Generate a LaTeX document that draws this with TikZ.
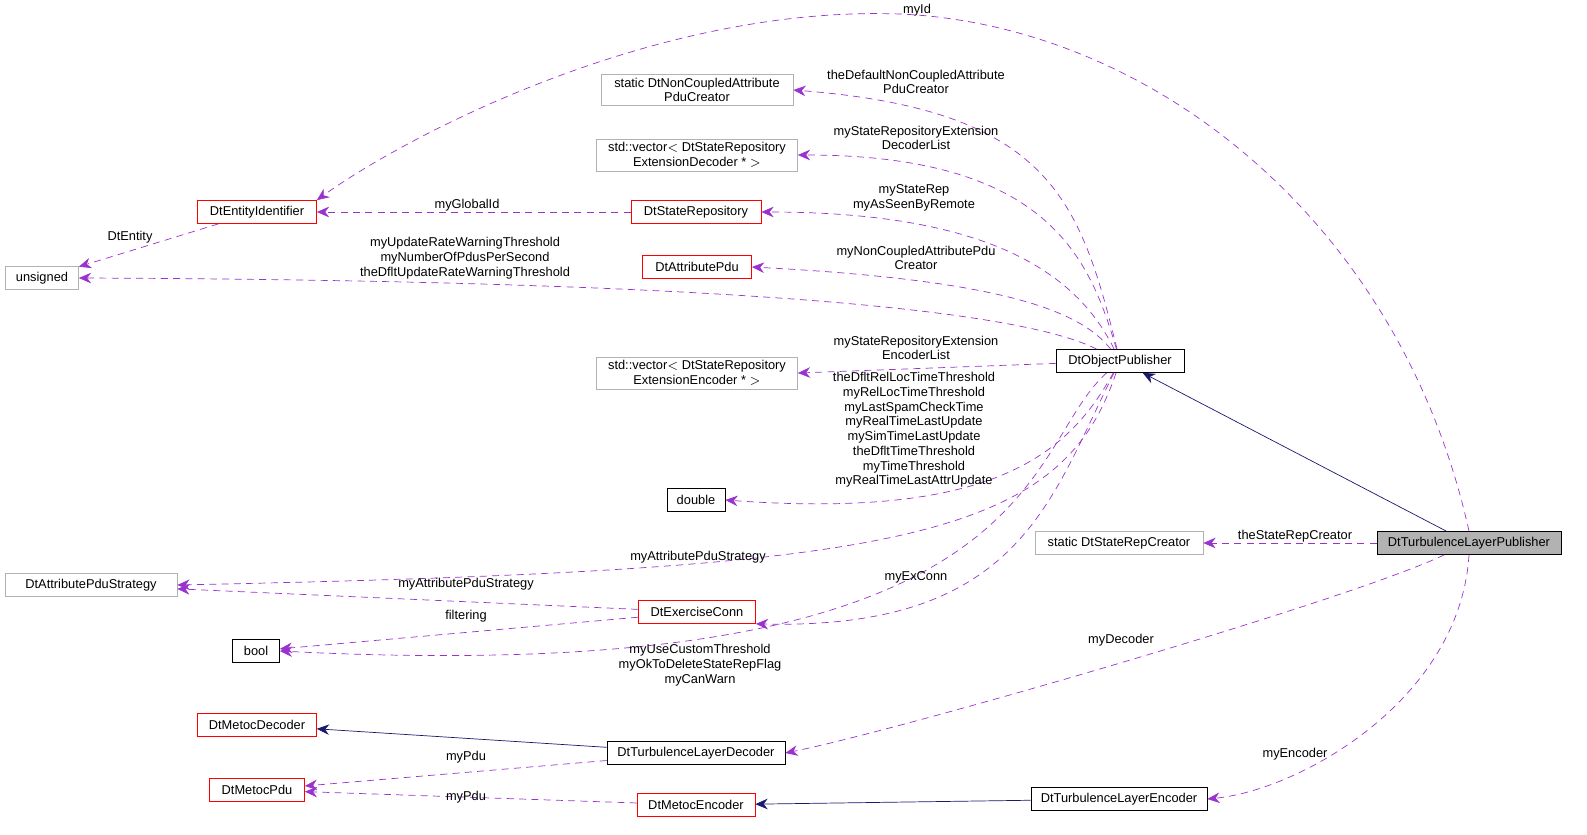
\documentclass[tikz,border=0pt]{standalone}
\usepackage{fontspec}
\setmainfont{Liberation Sans}
\usetikzlibrary{positioning,arrows.meta}
\definecolor{usecol}{HTML}{9A32CD}
\definecolor{inhcol}{HTML}{191970}
\tikzset{%
  cls/.style = {rectangle,draw,font=\fontsize{7.3}{8.4}\selectfont,inner sep=2pt,
        minimum height=0.46cm,align=center},
  ext/.style = {cls,draw=black!30},
  red/.style = {cls,draw=red},
  blk/.style = {cls,draw=black},
  usearrow/.style = {-{Stealth[length=7pt,width=6pt,fill=usecol]},dashed,draw=usecol,dash pattern=on 4pt off 3pt},
  inharrow/.style = {-{Stealth[length=7pt,width=6pt,fill=inhcol]},solid,draw=inhcol},
  lbl/.style = {font=\fontsize{7.3}{8.4}\selectfont,align=center,inner sep=0pt}
}
\begin{document}
\begin{tikzpicture}[x=0.02cm,y=-0.02cm]
\node[blk,fill=black!30,minimum width=3.68cm] (tlp) at (1469,543) {DtTurbulenceLayerPublisher};
\node[blk,minimum width=2.56cm] (op) at (1120,361) {DtObjectPublisher};
\node[ext,minimum width=3.84cm] (ncpc) at (697,90) {static DtNonCoupledAttribute\\PduCreator};
\node[ext,minimum width=4.02cm] (vdec) at (697,155) {std::vector$<$ DtStateRepository\\ExtensionDecoder * $>$};
\node[red,minimum width=2.38cm] (eid) at (257,212) {DtEntityIdentifier};
\node[red,minimum width=2.6cm] (srep) at (696,212) {DtStateRepository};
\node[ext,minimum width=1.46cm] (uns) at (42,278) {unsigned};
\node[red,minimum width=2.18cm] (apdu) at (697,267) {DtAttributePdu};
\node[ext,minimum width=4.02cm] (venc) at (697,373) {std::vector$<$ DtStateRepository\\ExtensionEncoder * $>$};
\node[blk,minimum width=1.16cm] (dbl) at (696,500) {double};
\node[ext,minimum width=3.36cm] (src) at (1119,543) {static DtStateRepCreator};
\node[ext,minimum width=3.44cm] (aps) at (91,585) {DtAttributePduStrategy};
\node[red,minimum width=2.34cm] (exc) at (697,612) {DtExerciseConn};
\node[blk,minimum width=0.94cm] (bool) at (256,651) {bool};
\node[red,minimum width=2.38cm] (mdec) at (257,725) {DtMetocDecoder};
\node[blk,minimum width=3.56cm] (tld) at (696,753) {DtTurbulenceLayerDecoder};
\node[red,minimum width=1.9cm] (mpdu) at (257,790) {DtMetocPdu};
\node[red,minimum width=2.36cm] (menc) at (696,805) {DtMetocEncoder};
\node[blk,minimum width=3.52cm] (tle) at (1119,799) {DtTurbulenceLayerEncoder};
\coordinate (top) at (900,14);

% inheritance
\draw[inharrow] (tlp) -- (op);
\draw[inharrow] (tld) -- (mdec);
\draw[inharrow] (tle) -- (menc);

% usage
\draw[usearrow] (tlp.north) .. controls (1400,220) and (1150,25) .. (top) .. controls (650,5) and (400,140) .. (eid.north east);
\draw[usearrow] (op) .. controls (1080,200) and (1050,110) .. (ncpc.east);
\draw[usearrow] (op) .. controls (1090,260) and (1050,155) .. (vdec.east);
\draw[usearrow] (op) .. controls (1080,280) and (1000,212) .. (srep.east);
\draw[usearrow] (op) .. controls (1080,310) and (1000,280) .. (apdu.east);
\draw[usearrow] (op) .. controls (1000,300) and (600,280) .. (uns.east);
\draw[usearrow] (op) -- (venc.east);
\draw[usearrow] (op) .. controls (1070,450) and (1000,520) .. (dbl.east);
\draw[usearrow] (op) .. controls (1060,540) and (900,570) .. (aps.east);
\draw[usearrow] (op) .. controls (1050,500) and (1020,630) .. (exc.south east);
\draw[usearrow] (op) .. controls (1020,450) and (1050,690) .. (bool.east);
\draw[usearrow] (srep) -- (eid);
\draw[usearrow] (eid) -- (uns);
\draw[usearrow] (exc) -- (aps);
\draw[usearrow] (exc) -- (bool);
\draw[usearrow] (tlp) -- (src);
\draw[usearrow] (tlp) .. controls (1350,600) and (900,730) .. (tld.east);
\draw[usearrow] (tlp.south) .. controls (1460,700) and (1300,790) .. (tle.east);
\draw[usearrow] (tld) -- (mpdu);
\draw[usearrow] (menc) -- (mpdu);

% labels
\node[lbl] (l1) at (917,10) {myId};
\node[lbl] (l2) at (916,82) {theDefaultNonCoupledAttribute\\PduCreator};
\node[lbl] (l3) at (916,138) {myStateRepositoryExtension\\DecoderList};
\node[lbl] (l4) at (914,198) {myStateRep\\myAsSeenByRemote};
\node[lbl] (l5) at (916,258) {myNonCoupledAttributePdu\\Creator};
\node[lbl] (l6) at (465,258) {myUpdateRateWarningThreshold\\myNumberOfPdusPerSecond\\theDfltUpdateRateWarningThreshold};
\node[lbl] (l7) at (916,348) {myStateRepositoryExtension\\EncoderList};
\node[lbl] (l8) at (914,430) {theDfltRelLocTimeThreshold\\myRelLocTimeThreshold\\myLastSpamCheckTime\\myRealTimeLastUpdate\\mySimTimeLastUpdate\\theDfltTimeThreshold\\myTimeThreshold\\myRealTimeLastAttrUpdate};
\node[lbl] (l9) at (698,557) {myAttributePduStrategy};
\node[lbl] (l10) at (916,577) {myExConn};
\node[lbl] (l11) at (700,665) {myUseCustomThreshold\\myOkToDeleteStateRepFlag\\myCanWarn};
\node[lbl] (l12) at (467,205) {myGlobalId};
\node[lbl] (l13) at (130,237) {DtEntity};
\node[lbl] (l14) at (466,584) {myAttributePduStrategy};
\node[lbl] (l15) at (466,616) {filtering};
\node[lbl] (l16) at (1295,536) {theStateRepCreator};
\node[lbl] (l17) at (1121,640) {myDecoder};
\node[lbl] (l18) at (1295,754) {myEncoder};
\node[lbl] (l19) at (466,757) {myPdu};
\node[lbl] (l20) at (466,797) {myPdu};
\pgfresetboundingbox
\useasboundingbox (0,0) rectangle (1587,835);
\end{tikzpicture}
\end{document}
